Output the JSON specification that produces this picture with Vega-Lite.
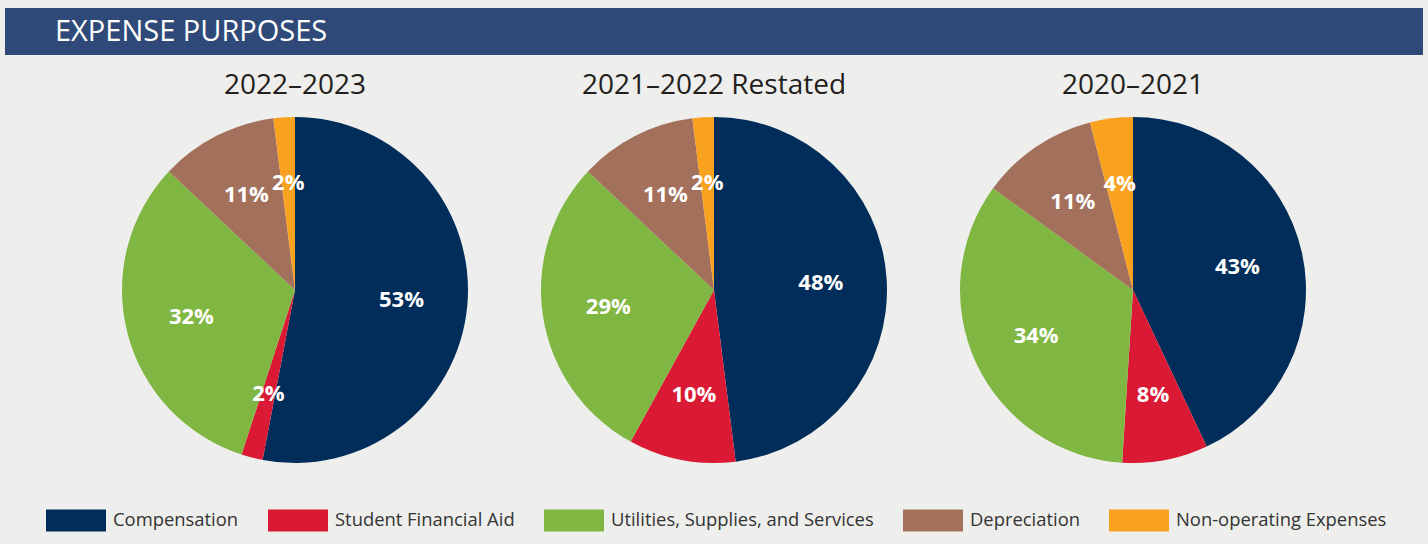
{
  "$schema": "https://vega.github.io/schema/vega-lite/v6.json",
  "background": "#eeeeec",
  "padding": {"left": 5, "top": 8, "right": 5, "bottom": 12},
  "config": {"view": {"stroke": null}, "font": "Open Sans"},
  "datasets": {
    "y2023": [
      {"cat": "Compensation", "k": 1, "v": 0.53},
      {"cat": "Student Financial Aid", "k": 2, "v": 0.02},
      {"cat": "Utilities, Supplies, and Services", "k": 3, "v": 0.32},
      {"cat": "Depreciation", "k": 4, "v": 0.11},
      {"cat": "Non-operating Expenses", "k": 5, "v": 0.02}
    ],
    "y2022": [
      {"cat": "Compensation", "k": 1, "v": 0.48},
      {"cat": "Student Financial Aid", "k": 2, "v": 0.10},
      {"cat": "Utilities, Supplies, and Services", "k": 3, "v": 0.29},
      {"cat": "Depreciation", "k": 4, "v": 0.11},
      {"cat": "Non-operating Expenses", "k": 5, "v": 0.02}
    ],
    "y2021": [
      {"cat": "Compensation", "k": 1, "v": 0.43},
      {"cat": "Student Financial Aid", "k": 2, "v": 0.08},
      {"cat": "Utilities, Supplies, and Services", "k": 3, "v": 0.34},
      {"cat": "Depreciation", "k": 4, "v": 0.11},
      {"cat": "Non-operating Expenses", "k": 5, "v": 0.04}
    ],
    "header": [{"t": "EXPENSE PURPOSES"}]
  },
  "spacing": 17,
  "center": true,
  "vconcat": [
    {
      "width": 1418,
      "height": 47,
      "data": {"name": "header"},
      "view": {"fill": "#2f4a78", "stroke": null},
      "mark": {"type": "text", "align": "left", "baseline": "middle", "dx": 50, "color": "#ffffff", "fontSize": 29, "fontWeight": "normal", "font": "Open Sans"},
      "encoding": {
        "x": {"datum": 0, "type": "quantitative", "scale": {"domain": [0, 1]}, "axis": null},
        "text": {"field": "t", "type": "nominal"}
      }
    },
    {
      "spacing": 0,
      "hconcat": [
        {
          "width": 419, "height": 346,
          "data": {"name": "y2023"},
          "title": {"text": "2022–2023", "fontSize": 28, "fontWeight": "normal", "color": "#231f20", "font": "Open Sans", "offset": 17},
          "layer": [
            {
              "mark": {"type": "arc", "outerRadius": 173},
              "encoding": {
                "theta": {"field": "v", "type": "quantitative", "stack": true},
                "order": {"field": "k", "type": "quantitative"},
                "color": {"field": "cat", "type": "nominal",
                  "scale": {"domain": ["Compensation", "Student Financial Aid", "Utilities, Supplies, and Services", "Depreciation", "Non-operating Expenses"], "range": ["#002d5a", "#da1a35", "#80b642", "#a3705c", "#f9a21f"]},
                  "legend": {"orient": "none", "legendX": 41, "legendY": 482, "direction": "horizontal", "columns": 5, "title": null, "symbolType": "M-1,-0.367H1V0.367H-1Z", "symbolSize": 3600, "symbolStrokeWidth": 0, "symbolOpacity": 1, "labelFontSize": 18.4, "labelFont": "Open Sans", "labelColor": "#333333", "labelOffset": 7, "columnPadding": 29, "labelLimit": 400}
                }
              }
            },
            {
              "mark": {"type": "text", "radius": 107, "fontSize": 22, "fontWeight": "bold", "fill": "#ffffff", "font": "Open Sans"},
              "encoding": {
                "theta": {"field": "v", "type": "quantitative", "stack": true},
                "order": {"field": "k", "type": "quantitative"},
                "text": {"field": "v", "type": "quantitative", "format": ".0%"}
              }
            }
          ]
        },
        {
          "width": 419, "height": 346,
          "data": {"name": "y2022"},
          "title": {"text": "2021–2022 Restated", "fontSize": 28, "fontWeight": "normal", "color": "#231f20", "font": "Open Sans", "offset": 17},
          "layer": [
            {
              "mark": {"type": "arc", "outerRadius": 173},
              "encoding": {
                "theta": {"field": "v", "type": "quantitative", "stack": true},
                "order": {"field": "k", "type": "quantitative"},
                "color": {"field": "cat", "type": "nominal",
                  "scale": {"domain": ["Compensation", "Student Financial Aid", "Utilities, Supplies, and Services", "Depreciation", "Non-operating Expenses"], "range": ["#002d5a", "#da1a35", "#80b642", "#a3705c", "#f9a21f"]},
                  "legend": {"orient": "none", "legendX": 41, "legendY": 482, "direction": "horizontal", "columns": 5, "title": null, "symbolType": "M-1,-0.367H1V0.367H-1Z", "symbolSize": 3600, "symbolStrokeWidth": 0, "symbolOpacity": 1, "labelFontSize": 18.4, "labelFont": "Open Sans", "labelColor": "#333333", "labelOffset": 7, "columnPadding": 29, "labelLimit": 400}
                }
              }
            },
            {
              "mark": {"type": "text", "radius": 107, "fontSize": 22, "fontWeight": "bold", "fill": "#ffffff", "font": "Open Sans"},
              "encoding": {
                "theta": {"field": "v", "type": "quantitative", "stack": true},
                "order": {"field": "k", "type": "quantitative"},
                "text": {"field": "v", "type": "quantitative", "format": ".0%"}
              }
            }
          ]
        },
        {
          "width": 419, "height": 346,
          "data": {"name": "y2021"},
          "title": {"text": "2020–2021", "fontSize": 28, "fontWeight": "normal", "color": "#231f20", "font": "Open Sans", "offset": 17},
          "layer": [
            {
              "mark": {"type": "arc", "outerRadius": 173},
              "encoding": {
                "theta": {"field": "v", "type": "quantitative", "stack": true},
                "order": {"field": "k", "type": "quantitative"},
                "color": {"field": "cat", "type": "nominal",
                  "scale": {"domain": ["Compensation", "Student Financial Aid", "Utilities, Supplies, and Services", "Depreciation", "Non-operating Expenses"], "range": ["#002d5a", "#da1a35", "#80b642", "#a3705c", "#f9a21f"]},
                  "legend": {"orient": "none", "legendX": 41, "legendY": 482, "direction": "horizontal", "columns": 5, "title": null, "symbolType": "M-1,-0.367H1V0.367H-1Z", "symbolSize": 3600, "symbolStrokeWidth": 0, "symbolOpacity": 1, "labelFontSize": 18.4, "labelFont": "Open Sans", "labelColor": "#333333", "labelOffset": 7, "columnPadding": 29, "labelLimit": 400}
                }
              }
            },
            {
              "mark": {"type": "text", "radius": 107, "fontSize": 22, "fontWeight": "bold", "fill": "#ffffff", "font": "Open Sans"},
              "encoding": {
                "theta": {"field": "v", "type": "quantitative", "stack": true},
                "order": {"field": "k", "type": "quantitative"},
                "text": {"field": "v", "type": "quantitative", "format": ".0%"}
              }
            }
          ]
        }
      ]
    }
  ]
}
